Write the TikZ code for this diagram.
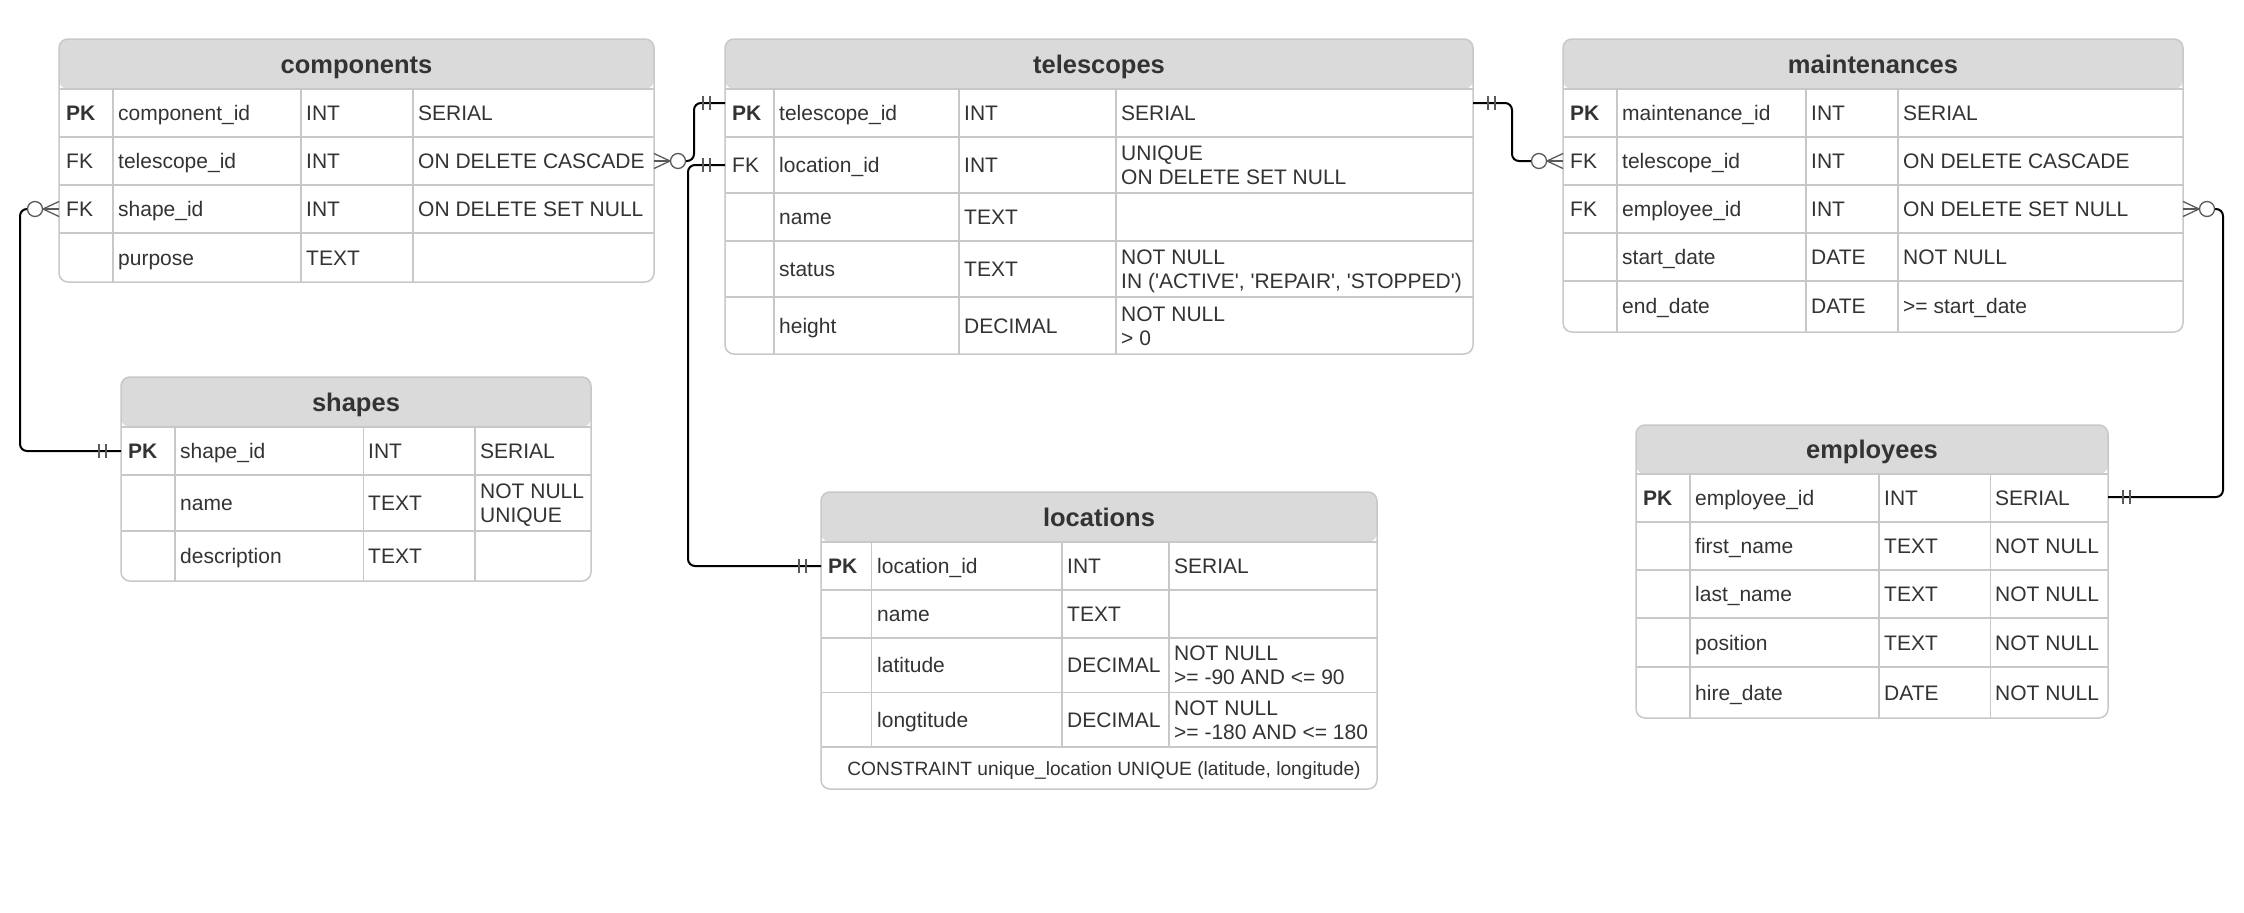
\documentclass[tikz,border=0pt]{standalone}
\usepackage{fontspec}
\setmainfont{Liberation Sans}[Ligatures=TeXOff]
\definecolor{hdrc}{HTML}{DADADA}
\definecolor{gridc}{HTML}{C8C8C8}
\definecolor{txtc}{HTML}{333333}
\definecolor{symc}{HTML}{5A5A5A}
\tikzset{
  tframe/.style={draw=gridc, line width=1.5pt, fill=white, rounded corners=9pt, inner sep=0pt, outer sep=0pt, anchor=north west},
  ttitle/.style={font=\fontsize{25.5}{30}\selectfont\bfseries, text=txtc, anchor=base, inner sep=0pt},
  ctext/.style={font=\fontsize{21}{24}\selectfont, text=txtc, anchor=base west, inner sep=0pt, align=left},
  gline/.style={draw=gridc, line width=1.5pt},
  conn/.style={draw=black, line width=2pt, rounded corners=7pt},
  sym/.style={draw=symc, line width=1.3pt},
}
\newcommand{\hdrfill}[1]{\fill[hdrc] (path picture bounding box.north west) rectangle ([yshift=-#1pt]path picture bounding box.north east);}
% #1 prefix, #2 baseline, #3 key, #4 field, #5 type, #6 constraint, #7 constraint baseline (last line)
\newcommand{\errow}[7]{%
  \if\relax\detokenize{#3}\relax\else\node[ctext] (#1-k) at (\cA,#2) {#3};\fi
  \node[ctext] (#1-f) at (\cB,#2) {#4};
  \node[ctext] (#1-t) at (\cC,#2) {#5};
  \if\relax\detokenize{#6}\relax\else\node[ctext] (#1-c) at (\cD,#7) {#6};\fi
}
\newcommand{\zmany}[2]{%
  \draw[sym] ([yshift=7.5pt]#1) -- ([xshift=#2*16pt]#1) -- ([yshift=-7.5pt]#1);
  \draw[sym] (#1) -- ([xshift=#2*16pt]#1);
  \draw[sym,fill=white] ([xshift=#2*24pt]#1) circle[radius=7.5pt];
}
\newcommand{\onlyone}[2]{%
  \draw[sym] ([xshift=#2*15pt,yshift=7pt]#1) -- ([xshift=#2*15pt,yshift=-7pt]#1);
  \draw[sym] ([xshift=#2*22pt,yshift=7pt]#1) -- ([xshift=#2*22pt,yshift=-7pt]#1);
}
\begin{document}
\begin{tikzpicture}[x=1pt,y=-1pt]
\useasboundingbox (0,0) rectangle (2244,913);

% ---------------- components
\node[tframe, minimum width=595pt, minimum height=243pt, path picture={\hdrfill{50}}] (comp) at (59,39) {};
\foreach \yy in {89,137,185,233} \draw[gline] (59,\yy) -- (654,\yy);
\foreach \xx in {113,301,413} \draw[gline] (\xx,89) -- (\xx,282);
\node[ttitle] (comp-title) at (356.5,73) {components};
\def\cA{66}\def\cB{118}\def\cC{306}\def\cD{418}
\errow{comp-r1}{120.5}{\textbf{PK}}{component\_id}{INT}{SERIAL}{120.5}
\errow{comp-r2}{168.5}{FK}{telescope\_id}{INT}{ON DELETE CASCADE}{168.5}
\errow{comp-r3}{216.5}{FK}{shape\_id}{INT}{ON DELETE SET NULL}{216.5}
\errow{comp-r4}{265}{}{purpose}{TEXT}{}{265}

% ---------------- telescopes
\node[tframe, minimum width=748pt, minimum height=315pt, path picture={\hdrfill{50}}] (tel) at (725,39) {};
\foreach \yy in {89,137,193,241,297} \draw[gline] (725,\yy) -- (1473,\yy);
\foreach \xx in {774,959,1116} \draw[gline] (\xx,89) -- (\xx,354);
\node[ttitle] (tel-title) at (1099,73) {telescopes};
\def\cA{732}\def\cB{779}\def\cC{964}\def\cD{1121}
\errow{tel-r1}{120.5}{\textbf{PK}}{telescope\_id}{INT}{SERIAL}{120.5}
\errow{tel-r2}{172.5}{FK}{location\_id}{INT}{UNIQUE\\ON DELETE SET NULL}{184.5}
\errow{tel-r3}{224.5}{}{name}{TEXT}{}{224.5}
\errow{tel-r4}{276.5}{}{status}{TEXT}{NOT NULL\\IN ('ACTIVE', 'REPAIR', 'STOPPED')}{288.5}
\errow{tel-r5}{333}{}{height}{DECIMAL}{NOT NULL\\> 0}{345}

% ---------------- maintenances
\node[tframe, minimum width=620pt, minimum height=293pt, path picture={\hdrfill{50}}] (maint) at (1563,39) {};
\foreach \yy in {89,137,185,233,281} \draw[gline] (1563,\yy) -- (2183,\yy);
\foreach \xx in {1617,1806,1898} \draw[gline] (\xx,89) -- (\xx,332);
\node[ttitle] (maint-title) at (1873,73) {maintenances};
\def\cA{1570}\def\cB{1622}\def\cC{1811}\def\cD{1903}
\errow{maint-r1}{120.5}{\textbf{PK}}{maintenance\_id}{INT}{SERIAL}{120.5}
\errow{maint-r2}{168.5}{FK}{telescope\_id}{INT}{ON DELETE CASCADE}{168.5}
\errow{maint-r3}{216.5}{FK}{employee\_id}{INT}{ON DELETE SET NULL}{216.5}
\errow{maint-r4}{264.5}{}{start\_date}{DATE}{NOT NULL}{264.5}
\errow{maint-r5}{313.5}{}{end\_date}{DATE}{>= start\_date}{313.5}

% ---------------- shapes
\node[tframe, minimum width=470pt, minimum height=204pt, path picture={\hdrfill{50}}] (shapes) at (121,377) {};
\foreach \yy in {427,475,531} \draw[gline] (121,\yy) -- (591,\yy);
\foreach \xx in {175,363.5,475} \draw[gline] (\xx,427) -- (\xx,581);
\node[ttitle] (shapes-title) at (356,411) {shapes};
\def\cA{128}\def\cB{180}\def\cC{368}\def\cD{480}
\errow{shapes-r1}{458.5}{\textbf{PK}}{shape\_id}{INT}{SERIAL}{458.5}
\errow{shapes-r2}{510.5}{}{name}{TEXT}{NOT NULL\\UNIQUE}{522.5}
\errow{shapes-r3}{563.5}{}{description}{TEXT}{}{563.5}

% ---------------- locations
\node[tframe, minimum width=556pt, minimum height=297pt, path picture={\hdrfill{50}}] (loc) at (821,492) {};
\foreach \yy in {542,590,638,692.5,747} \draw[gline] (821,\yy) -- (1377,\yy);
\foreach \xx in {871.5,1062,1169} \draw[gline] (\xx,542) -- (\xx,747);
\node[ttitle] (loc-title) at (1099,526) {locations};
\def\cA{828}\def\cB{877}\def\cC{1067}\def\cD{1174}
\errow{loc-r1}{573.5}{\textbf{PK}}{location\_id}{INT}{SERIAL}{573.5}
\errow{loc-r2}{621.5}{}{name}{TEXT}{}{621.5}
\errow{loc-r3}{672.5}{}{latitude}{DECIMAL}{NOT NULL\\>= -90 AND <= 90}{684.5}
\errow{loc-r4}{727.5}{}{longtitude}{DECIMAL}{NOT NULL\\>= -180 AND <= 180}{739.5}
\node[ctext, anchor=base, font=\fontsize{19.2}{22}\selectfont] (loc-cons) at (1104,775) {CONSTRAINT unique\_location UNIQUE (latitude, longitude)};

% ---------------- employees
\node[tframe, minimum width=472pt, minimum height=293pt, path picture={\hdrfill{49}}] (emp) at (1636,425) {};
\foreach \yy in {474,522,570,618,667} \draw[gline] (1636,\yy) -- (2108,\yy);
\foreach \xx in {1690,1879,1990.5} \draw[gline] (\xx,474) -- (\xx,718);
\node[ttitle] (emp-title) at (1872,458.5) {employees};
\def\cA{1643}\def\cB{1695}\def\cC{1884}\def\cD{1995}
\errow{emp-r1}{505.5}{\textbf{PK}}{employee\_id}{INT}{SERIAL}{505.5}
\errow{emp-r2}{553.5}{}{first\_name}{TEXT}{NOT NULL}{553.5}
\errow{emp-r3}{601.5}{}{last\_name}{TEXT}{NOT NULL}{601.5}
\errow{emp-r4}{650}{}{position}{TEXT}{NOT NULL}{650}
\errow{emp-r5}{700}{}{hire\_date}{DATE}{NOT NULL}{700}

% ---------------- connectors
\coordinate (c1a) at (comp.east |- 0,161);
\coordinate (c1b) at (tel.west |- 0,103);
\draw[conn] ([xshift=31.5pt]c1a) -| ([xshift=-31pt]c1b) -- (c1b);
\zmany{c1a}{1}
\onlyone{c1b}{-1}

\coordinate (c2a) at (tel.west |- 0,165);
\coordinate (c2b) at (loc.west |- 0,566);
\draw[conn] (c2a) -| ([xshift=-133pt]c2b) -- (c2b);
\onlyone{c2a}{-1}
\onlyone{c2b}{-1}

\coordinate (c3a) at (tel.east |- 0,103);
\coordinate (c3b) at (maint.west |- 0,161);
\draw[conn] (c3a) -| ([xshift=-51pt]c3b) -- ([xshift=-31.5pt]c3b);
\onlyone{c3a}{1}
\zmany{c3b}{-1}

\coordinate (c4a) at (maint.east |- 0,209);
\coordinate (c4b) at (emp.east |- 0,497);
\draw[conn] ([xshift=31.5pt]c4a) -| ([xshift=115pt]c4b) -- (c4b);
\zmany{c4a}{1}
\onlyone{c4b}{1}

\coordinate (c5a) at (comp.west |- 0,209);
\coordinate (c5b) at (shapes.west |- 0,451);
\draw[conn] ([xshift=-31.5pt]c5a) -| ([xshift=-101pt]c5b) -- (c5b);
\zmany{c5a}{-1}
\onlyone{c5b}{-1}
\end{tikzpicture}
\end{document}
